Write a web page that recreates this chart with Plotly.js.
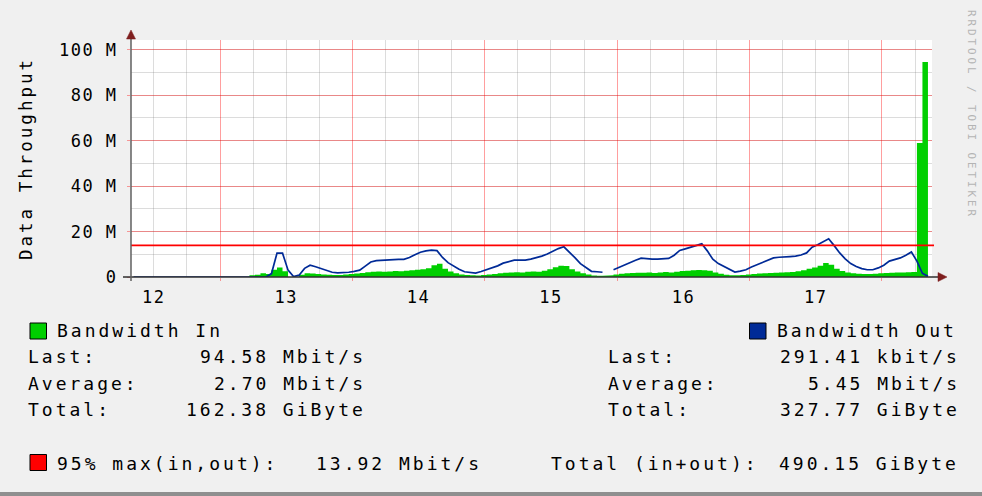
<!DOCTYPE html>
<html>
<head>
<meta charset="utf-8">
<script src="https://cdn.plot.ly/plotly-3.0.1.min.js"></script>
<style>
  body { margin: 0; background: #f0f0f0; }
  .annotation-text { letter-spacing: 3px; }
  .xtick text, .ytick text { letter-spacing: 1.5px; }
</style>
</head>
<body>
<div id="chart" style="width:982px;height:496px;"></div>
<script>
// ---- data (Mbit/s), hourly samples starting 2013-05-12 08:20 ----
const startTime = Date.UTC(2013, 4, 12, 8, 20);
const stepMs = 3600000;

const bwIn = [
  0,0,0,0,0,0,0,0,0,0,
  0,0,0,0,0,0,0,0,0,0,
  0,0,0.8,1,1.7,1.3,3.2,4.2,2.5,0,
  0,1,1.7,1.5,1.3,1.1,1,0.9,0.9,1.1,
  1.3,1.5,1.8,2.1,2.3,2.4,2.3,2.4,2.6,2.5,
  2.8,3,3.2,3.4,3.8,5.2,5.8,3.6,2.4,1.6,
  1.1,0.9,0.8,0.7,0.9,1.1,1.3,1.6,1.9,2,
  2.1,2,2.3,2.4,2.3,2.7,3.4,4.3,5,4.8,
  3.4,2.4,1.6,1.1,0.7,0.5,null,0.8,1.1,1.4,
  1.6,1.8,1.9,1.9,2,1.8,2,2.2,2,2.3,
  2.6,2.8,3,3.1,3,2.8,2,1.4,1,0.8,
  0.8,0.9,1.1,1.3,1.5,1.6,1.8,1.9,2,2.1,
  2.2,2.5,3,3.6,4.2,5,6.2,5.4,3.6,2.6,
  2,1.6,1.4,1.3,1.3,1.4,1.6,1.8,1.9,2,
  2,2.1,2.2,59,94.58
];

const bwOut = [
  0,0,0,0,0,0,0,0,0,0,
  0,0,0,0,0,0,0,0,0,0,
  0,0,0,0,0,1.5,10.5,10.5,3,0.2,
  0.8,3.8,5.2,4.5,3.7,2.7,2.1,1.8,1.8,2.1,
  2.5,3,4.8,6.6,7.2,7.4,7.4,7.9,7.8,7.8,
  8.6,9.8,10.9,11.5,11.8,11.6,8.6,6.3,4.7,3.4,
  2.3,1.9,1.7,2.4,3.2,4,4.9,6.1,6.9,7.4,
  7.4,7.4,7.9,8.4,9.2,10.1,11.3,12.5,13.3,11.1,
  8.5,5.9,4,2.5,2.3,2.1,null,3.2,4.3,5.3,
  6.5,7.4,8.3,8,7.9,7.9,7.9,8.2,9.6,11.7,
  12.4,13.1,14,14.6,11.5,7.8,5.9,4.6,3.5,2.2,
  2.6,3.2,4.4,5.4,6.2,7.1,8.4,8.7,8.7,9,
  9.2,9.7,10.6,13.1,14.2,15.6,16.8,13.8,10.6,8,
  5.9,4.6,3.7,3.2,3.2,4,5.2,7,7.8,8.4,
  9.6,11,7,1.6,0.29
];

const p95 = 13.92; // Mbit/s, 95% max(in,out)

const seriesNames = ["Bandwidth In", "Bandwidth Out"];
const seriesColors = ["#00CF00", "#002A97"];
const statLabels = ["Last:", "Average:", "Total:"];
const inStats  = ["94.58 Mbit/s", "2.70 Mbit/s", "162.38 GiByte"];
const outStats = ["291.41 kbit/s", "5.45 Mbit/s", "327.77 GiByte"];
const totalInOut = "490.15 GiByte";

const yTickVals = [0, 20, 40, 60, 80, 100];
const yTickText = ["0", "20 M", "40 M", "60 M", "80 M", "100 M"];

const times = bwIn.map((_, i) => startTime + i * stepMs);

// ---- layout helpers: pixel -> paper coords ----
const PL = 131, PT = 40, PW = 801, PH = 237, PB = PT + PH;
const fx = px => (px - PL) / PW;
const fy = py => (PB - py) / PH;

const FONT = "DejaVu Sans Mono";
const TXT = "#000000";

function ann(text, px, py, xanchor, extra) {
  return Object.assign({
    text: text, xref: "paper", yref: "paper", x: fx(px), y: fy(py),
    xanchor: xanchor, yanchor: "middle", showarrow: false,
    borderpad: 0, borderwidth: 0,
    font: { family: FONT, size: 18, color: TXT }
  }, extra || {});
}

const rows = [330, 356.7, 383.3, 409.3];
const annotations = [];
annotations.push(ann(seriesNames[0], 56.5, rows[0], "left"));
annotations.push(ann(seriesNames[1], 777, rows[0], "left"));
statLabels.forEach((lab, i) => {
  annotations.push(ann(lab, 28.3, rows[i + 1], "left"));
  annotations.push(ann(inStats[i], 366, rows[i + 1], "right"));
  annotations.push(ann(lab, 608.3, rows[i + 1], "left"));
  annotations.push(ann(outStats[i], 960, rows[i + 1], "right"));
});
annotations.push(ann("95% max(in,out):", 57, 463.3, "left"));
annotations.push(ann(p95.toFixed(2) + " Mbit/s", 482, 463.3, "right"));
annotations.push(ann("Total (in+out):", 551, 463.3, "left"));
annotations.push(ann(totalInOut, 959, 463.3, "right"));
// y axis title
annotations.push(ann("Data Throughput", 26, 159, "center", { textangle: -90, font: { family: FONT, size: 17.5, color: TXT } }));
// watermark
annotations.push(ann("RRDTOOL / TOBI OETIKER", 972, 115, "center", { textangle: 90, font: { family: FONT, size: 10.8, color: "#b4b4b4" } }));

function sq(x0, y0, color) {
  return { type: "rect", xref: "paper", yref: "paper",
    x0: fx(x0), x1: fx(x0 + 16.5), y0: fy(y0 + 16), y1: fy(y0),
    fillcolor: color, line: { color: "#000000", width: 1 } };
}

const shapes = [
  // 95th percentile line
  { type: "line", xref: "paper", yref: "y", x0: 0, x1: fx(934), y0: p95, y1: p95,
    line: { color: "#FF0000", width: 1.6 } },
  // axes
  { type: "line", xref: "paper", yref: "paper", x0: fx(123), x1: fx(940), y0: 0, y1: 0,
    line: { color: "#303030", width: 1.5 } },
  { type: "line", xref: "paper", yref: "paper", x0: 0, x1: 0, y0: fy(281), y1: fy(35),
    line: { color: "#606060", width: 1.5 } },
  // arrows
  { type: "path", xref: "paper", yref: "paper",
    path: `M ${fx(126.5)},${fy(39)} L ${fx(135.5)},${fy(39)} L ${fx(131)},${fy(30)} Z`,
    fillcolor: "#7F1F1F", line: { color: "#7F1F1F", width: 0.5 } },
  { type: "path", xref: "paper", yref: "paper",
    path: `M ${fx(938)},${fy(272.5)} L ${fx(938)},${fy(281.5)} L ${fx(947)},${fy(277)} Z`,
    fillcolor: "#7F1F1F", line: { color: "#7F1F1F", width: 0.5 } },
  // legend squares
  sq(30, 323, seriesColors[0]),
  sq(749.5, 323, seriesColors[1]),
  sq(30, 454.5, "#FF0000"),
  // bottom frame band
  { type: "rect", xref: "paper", yref: "paper", x0: fx(0), x1: fx(982), y0: fy(497), y1: fy(492),
    fillcolor: "#8f8f8f", line: { width: 0 } }
];

const traces = [
  { type: "scatter", mode: "lines", name: seriesNames[0], x: times, y: bwIn,
    line: { shape: "vh", width: 0, color: seriesColors[0] },
    fill: "tozeroy", fillcolor: seriesColors[0], connectgaps: false, hoverinfo: "skip" },
  { type: "scatter", mode: "lines", name: seriesNames[1], x: times, y: bwOut,
    line: { color: seriesColors[1], width: 1.7 }, connectgaps: false, hoverinfo: "skip" }
];

const layout = {
  width: 982, height: 496,
  paper_bgcolor: "#f0f0f0", plot_bgcolor: "#ffffff",
  margin: { l: PL, r: 982 - PL - PW, t: PT, b: 496 - PB, pad: 0 },
  showlegend: false,
  font: { family: FONT, size: 17, color: TXT },
  xaxis: {
    type: "date", range: ["2013-05-12 07:52", "2013-05-18 09:04"],
    tick0: "2013-05-12", dtick: 86400000, tickformat: "%d", ticklabelmode: "period",
    showgrid: true, gridcolor: "rgba(255,0,0,0.38)", gridwidth: 1,
    ticks: "outside", ticklen: 3, tickcolor: "rgba(255,0,0,0.38)",
    minor: { dtick: 21600000, showgrid: true, gridcolor: "rgba(130,130,130,0.28)", ticks: "" },
    showline: false, zeroline: false, automargin: false, fixedrange: true,
    tickfont: { family: FONT, size: 17, color: TXT }, ticklabelstandoff: 2
  },
  yaxis: {
    range: [0, 104.3], tickmode: "array", tickvals: yTickVals, ticktext: yTickText,
    showgrid: true, gridcolor: "rgba(255,0,0,0.38)", gridwidth: 1,
    ticks: "outside", ticklen: 3, tickcolor: "rgba(255,0,0,0.38)",
    minor: { tickmode: "linear", tick0: 0, dtick: 10, showgrid: true, gridcolor: "rgba(130,130,130,0.28)", ticks: "" },
    showline: false, zeroline: false, automargin: false, fixedrange: true,
    tickfont: { family: FONT, size: 17, color: TXT }, ticklabelstandoff: 6
  },
  shapes: shapes,
  annotations: annotations
};

Plotly.newPlot("chart", traces, layout, { staticPlot: true, displayModeBar: false });
</script>
</body>
</html>
